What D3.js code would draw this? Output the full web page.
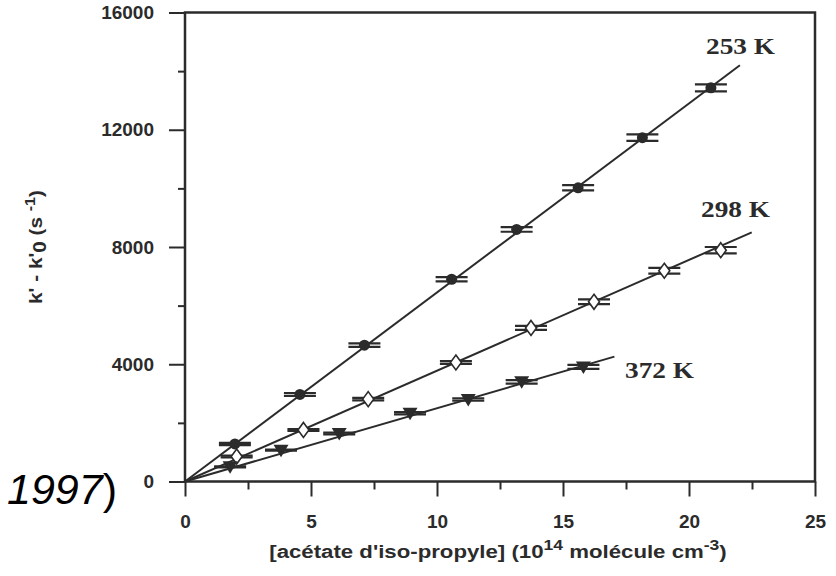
<!DOCTYPE html>
<html>
<head>
<meta charset="utf-8">
<script src="https://cdn.jsdelivr.net/npm/d3@7"></script>
<style>
  body { margin: 0; background: #fff; }
  svg { display: block; }
  .tick text { font-family: "Liberation Sans", Arial, sans-serif; font-weight: bold; font-size: 19px; fill: #2b2b2b; }
</style>
</head>
<body>
<script>
/* k' - k'0 vs [isopropyl acetate], three temperatures */

var xTicks = [0, 5, 10, 15, 20, 25];
var xMinor = [2.5, 7.5, 12.5, 17.5, 22.5];
var yTicks = [0, 4000, 8000, 12000, 16000];
var yMinor = [2000, 6000, 10000, 14000];

var temps = ["253 K", "298 K", "372 K"];

var conc253 = [1.98, 4.56, 7.12, 10.58, 13.16, 15.6, 18.15, 20.87];
var k253    = [1280, 2970, 4650, 6900, 8600, 10020, 11730, 13430];
var err253  = [40, 50, 60, 70, 80, 90, 110, 120];

var conc298 = [2.05, 4.7, 7.27, 10.75, 13.73, 16.23, 19.02, 21.26];
var k298    = [850, 1760, 2810, 4060, 5240, 6130, 7190, 7890];
var err298  = [30, 30, 40, 50, 70, 80, 100, 110];

var conc372 = [1.79, 3.81, 6.12, 8.93, 11.24, 13.36, 15.81];
var k372    = [500, 1070, 1640, 2330, 2800, 3400, 3910];
var err372  = [20, 20, 30, 40, 40, 60, 70];

// fitted straight lines through origin: slope and last x
var fitSlope = [645, 378, 250];
var fitEnd   = [22.02, 22.49, 17.04];

var ink = "#2b2b2b";

var svg = d3.select("body").append("svg")
    .attr("width", 836)
    .attr("height", 576);

var x = d3.scaleLinear().domain([0, 25]).range([185, 815]);
var y = d3.scaleLinear().domain([0, 16000]).range([481.5, 12.5]);

// minor ticks
svg.append("g")
    .attr("transform", "translate(" + x(0) + ",0)")
    .call(d3.axisLeft(y).tickValues(yMinor).tickSize(7).tickFormat(""))
    .call(function(g){ g.select(".domain").remove(); });
svg.append("g")
    .attr("transform", "translate(0," + y(0) + ")")
    .call(d3.axisBottom(x).tickValues(xMinor).tickSize(8).tickFormat(""))
    .call(function(g){ g.select(".domain").remove(); });

// major ticks
var yAxis = svg.append("g")
    .attr("transform", "translate(" + x(0) + ",0)")
    .call(d3.axisLeft(y).tickValues(yTicks).tickSize(16).tickPadding(15).tickFormat(d3.format("d")));
yAxis.select(".domain").remove();

var xAxis = svg.append("g")
    .attr("transform", "translate(0," + y(0) + ")")
    .call(d3.axisBottom(x).tickValues(xTicks).tickSize(15).tickPadding(18));
xAxis.select(".domain").remove();

svg.selectAll(".tick line").attr("stroke", ink).attr("stroke-width", 2);

// frame
svg.append("rect")
    .attr("x", x(0))
    .attr("y", y(16000))
    .attr("width", x(25) - x(0))
    .attr("height", y(0) - y(16000))
    .attr("fill", "none")
    .attr("stroke", ink)
    .attr("stroke-width", 2.5);

// fitted lines
svg.selectAll(".fit")
    .data(fitSlope)
    .enter()
    .append("line")
    .attr("class", "fit")
    .attr("x1", x(0))
    .attr("y1", y(0))
    .attr("x2", function(d, i){ return x(fitEnd[i]); })
    .attr("y2", function(d, i){ return y(d * fitEnd[i]); })
    .attr("stroke", ink)
    .attr("stroke-width", 2);

var series = [
    { xs: conc253, ys: k253, es: err253, shape: "circle" },
    { xs: conc298, ys: k298, es: err298, shape: "diamond" },
    { xs: conc372, ys: k372, es: err372, shape: "triangle" }
];

var capHalf = 16;

series.forEach(function(s){
    var pts = s.xs.map(function(v, i){ return { x: v, y: s.ys[i], e: s.es[i] }; });
    var g = svg.append("g");

    // error bars: wide caps above and below the point
    var eb = g.selectAll(".eb").data(pts).enter().append("g");
    [1, -1].forEach(function(sign){
        eb.append("line")
            .attr("x1", function(d){ return x(d.x) - capHalf; })
            .attr("x2", function(d){ return x(d.x) + capHalf; })
            .attr("y1", function(d){ return y(d.y + sign * d.e); })
            .attr("y2", function(d){ return y(d.y + sign * d.e); })
            .attr("stroke", ink).attr("stroke-width", 2.2);
    });

    if (s.shape == "circle") {
        g.selectAll("circle").data(pts).enter().append("circle")
            .attr("cx", function(d){ return x(d.x); })
            .attr("cy", function(d){ return y(d.y); })
            .attr("r", 5.5)
            .attr("fill", ink);
    } else if (s.shape == "diamond") {
        g.selectAll("path.m").data(pts).enter().append("path")
            .attr("class", "m")
            .attr("d", function(d){
                var cx = x(d.x), cy = y(d.y);
                return "M" + cx + "," + (cy - 7.5) + "L" + (cx + 5.5) + "," + cy +
                       "L" + cx + "," + (cy + 7.5) + "L" + (cx - 5.5) + "," + cy + "Z";
            })
            .attr("fill", "#fff")
            .attr("stroke", ink)
            .attr("stroke-width", 1.6);
    } else {
        g.selectAll("path.m").data(pts).enter().append("path")
            .attr("class", "m")
            .attr("d", function(d){
                var cx = x(d.x), cy = y(d.y);
                return "M" + (cx - 7.5) + "," + (cy - 5.5) + "L" + (cx + 7.5) + "," + (cy - 5.5) +
                       "L" + cx + "," + (cy + 7) + "Z";
            })
            .attr("fill", ink);
    }
});

// temperature labels
var labelPos = [[706, 54], [701, 217], [625, 378]];
svg.selectAll(".tlab")
    .data(temps)
    .enter()
    .append("text")
    .attr("class", "tlab")
    .attr("x", function(d, i){ return labelPos[i][0]; })
    .attr("y", function(d, i){ return labelPos[i][1]; })
    .attr("font-family", "'Liberation Serif', 'Times New Roman', serif")
    .attr("font-weight", "bold")
    .attr("font-size", 23)
    .attr("textLength", 69)
    .attr("lengthAdjust", "spacingAndGlyphs")
    .attr("fill", ink)
    .text(function(d){ return d; });

// axis titles (scan is a little stretched sideways, hence the scale)
var xt = svg.append("g")
    .attr("transform", "translate(498,558) scale(1.17,1)")
    .append("text")
    .attr("text-anchor", "middle")
    .attr("font-family", "'Liberation Sans', Arial, sans-serif")
    .attr("font-weight", "bold")
    .attr("font-size", 19)
    .attr("fill", ink);
xt.append("tspan").text("[acétate d'iso-propyle] (10");
xt.append("tspan").attr("dy", -8).attr("font-size", 15).text("14");
xt.append("tspan").attr("dy", 8).text(" molécule cm");
xt.append("tspan").attr("dy", -8).attr("font-size", 15).text("-3");
xt.append("tspan").attr("dy", 8).text(")");

var yt = svg.append("g")
    .attr("transform", "translate(42,247) rotate(-90) scale(1.15,1)")
    .append("text")
    .attr("text-anchor", "middle")
    .attr("font-family", "'Liberation Sans', Arial, sans-serif")
    .attr("font-weight", "bold")
    .attr("font-size", 18)
    .attr("fill", ink);
yt.append("tspan").text("k' - k'");
yt.append("tspan").attr("dy", 4).text("0");
yt.append("tspan").attr("dy", -4).text(" (s ");
yt.append("tspan").attr("dy", -7).attr("font-size", 14).text("-1");
yt.append("tspan").attr("dy", 7).text(")");

// cropped citation fragment on the left
var cite = svg.append("text")
    .attr("x", 7)
    .attr("y", 504)
    .attr("font-family", "'Liberation Sans', Arial, sans-serif")
    .attr("font-size", 43)
    .attr("fill", "#000");
cite.append("tspan").attr("font-style", "italic").text("1997");
cite.append("tspan").text(")");
</script>
</body>
</html>
